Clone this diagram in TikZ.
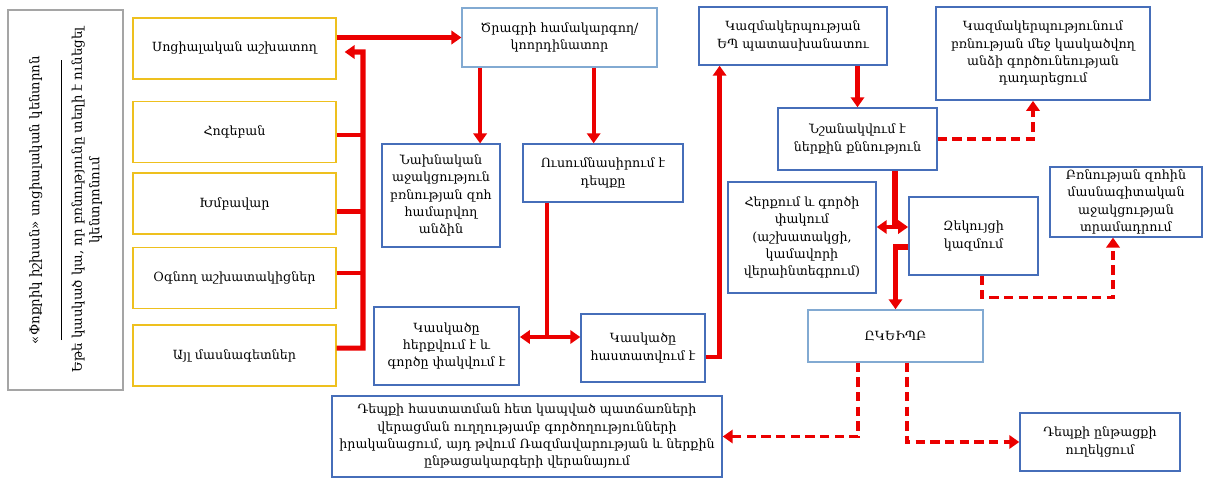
\documentclass[tikz,border=0pt]{standalone}
\usepackage{fontspec}
\setmainfont{DejaVu Serif}
\usetikzlibrary{arrows.meta,positioning,calc}
\definecolor{boxblue}{RGB}{70,110,185}
\definecolor{paleblue}{RGB}{130,170,210}
\definecolor{staffyellow}{RGB}{238,192,30}
\definecolor{framegray}{RGB}{165,165,165}
\definecolor{flowred}{RGB}{235,0,0}
\tikzstyle{every picture}=[x=0.75pt, y=-0.75pt,%
	>={Triangle[width=10pt,length=7.5pt]}, font=\fontsize{9.5}{13}\selectfont]
\tikzstyle{staff}=[draw=staffyellow, line width=1.2pt, minimum width=152pt,%
	minimum height=45.5pt, align=center]
\tikzstyle{stage}=[draw=boxblue, line width=1.1pt, align=center, inner sep=2pt]
\tikzstyle{flow}=[draw=flowred, line width=3.2pt]
\tikzstyle{maybe}=[draw=flowred, line width=2.6pt, dash pattern=on 7pt off 4pt]

\begin{document}
\begin{tikzpicture}
\useasboundingbox (0,0) rectangle (1208,479);
% left frame
\node[draw=framegray, line width=1.5pt, rotate=90, minimum width=285pt,%
	minimum height=86pt, align=center, font=\fontsize{10}{13}\selectfont] (centre)
	at (65.5,200)
	{«Փոքրիկ իշխան» սոցիալական կենտրոն\\[4pt]
	\rule{210pt}{0.6pt}\\[2pt]
	Եթե կասկած կա, որ բռնությունը տեղի է ունեցել\\ կենտրոնում};
% staff
\node[staff] (soc) at (234.5,48.5) {Սոցիալական աշխատող};
\node[staff] (psy) at (234.5,132) {Հոգեբան};
\node[staff] (group) at (234.5,203.5) {Խմբավար};
\node[staff] (helpers) at (234.5,278) {Օգնող աշխատակիցներ};
\node[staff] (others) at (234.5,355.5) {Այլ մասնագետներ};
% stages
\node[stage, draw=paleblue, minimum width=146pt, minimum height=44pt] (coord)
	at (559.5,37.5) {Ծրագրի համակարգող/\\կոորդինատոր};
\node[stage, minimum width=88.5pt, minimum height=77pt] (first) at (441,195.5)
	{Նախնական\\աջակցություն\\բռնության զոհ\\համարվող\\անձին};
\node[stage, minimum width=120pt, minimum height=43.5pt] (study) at (603,173)
	{Ուսումնասիրում է\\դեպքը};
\node[stage, minimum width=109pt, minimum height=58.5pt] (rejected) at (446.5,346)
	{Կասկածը\\հերքվում է և\\գործը փակվում է};
\node[stage, minimum width=93pt, minimum height=51pt] (confirmed) at (643,348)
	{Կասկածը\\հաստատվում է};
\node[stage, minimum width=141pt, minimum height=43.5pt] (ep) at (793,36)
	{Կազմակերպության\\ԵՊ պատասխանատու};
\node[stage, minimum width=160.5pt, minimum height=70pt] (suspend) at (1043,53.5)
	{Կազմակերպությունում\\բռնության մեջ կասկածվող\\անձի գործունեության\\դադարեցում};
\node[stage, minimum width=119pt, minimum height=46.5pt] (internal) at (857.5,139)
	{Նշանակվում է\\ներքին քննություն};
\node[stage, minimum width=114pt, minimum height=46.5pt] (victim) at (1126,202)
	{Բռնության զոհին\\մասնագիտական\\աջակցության\\տրամադրում};
\node[stage, minimum width=111pt, minimum height=83pt] (deny) at (802,237.5)
	{Հերքում և գործի\\փակում\\(աշխատակցի,\\կամավորի\\վերաինտեգրում)};
\node[stage, minimum width=97pt, minimum height=58.5pt] (report) at (973.5,236)
	{Զեկույցի\\կազմում};
\node[stage, draw=paleblue, minimum width=131pt, minimum height=39pt] (police)
	at (895.5,336) {ԸԿԵԻՊԲ};
\node[stage, minimum width=292.5pt, minimum height=61pt] (actions) at (527,436.5)
	{Դեպքի հաստատման հետ կապված պատճառների\\վերացման ուղղությամբ գործողությունների\\իրականացում, այդ թվում Ռազմավարության և ներքին\\ընթացակարգերի վերանայում};
\node[stage, minimum width=120pt, minimum height=43.5pt] (follow) at (1100,442)
	{Դեպքի ընթացքի\\ուղեկցում};
% staff to coordinator
\coordinate (bus) at (363,52);
\draw[flow] ([yshift=-2pt]psy.east) -- ([yshift=-2pt]psy.east -| bus);
\draw[flow] ([yshift=-6pt]group.east) -- ([yshift=-6pt]group.east -| bus);
\draw[flow] ([yshift=4pt]helpers.east) -- ([yshift=4pt]helpers.east -| bus);
\draw[flow,line width=3.8pt,->,shorten >=6pt] ([yshift=5.5pt]others.east) -| (bus)
	-- ([yshift=-2.6pt]soc.east);
\draw[flow,->] (soc.east |- coord.west) -- (coord.west);
\draw[flow,->] ([xshift=14pt]coord.south west) -- ([xshift=14pt]coord.south west |- first.north);
\draw[flow,->] ([xshift=-7pt]study.north |- coord.south) -- ([xshift=-7pt]study.north);
% study outcome
\coordinate (split) at (547,337);
\draw[flow] (split |- study.south) -- (split);
\draw[flow,<->] (rejected.east |- split) -- (confirmed.west |- split);
\draw[flow,->] ([yshift=-6.75pt]confirmed.east) -| ([xshift=16pt]ep.south west);
\draw[flow,->] (internal.north |- ep.south) -- (internal.north);
\draw[maybe,->] (internal.east) -| ([xshift=-7.5pt]suspend.south);
% internal inquiry
\coordinate (fork) at (895,227);
\draw[flow,line width=3.8pt] (fork |- internal.south) -- (fork);
\draw[flow,<->] (deny.east |- fork) -- (report.west |- fork);
\draw[flow,line width=3.8pt,->] ([yshift=-8.25pt]report.west) -| (police.north);
\draw[maybe,->] ([xshift=6.4pt]report.south) -- ++(0,22) -| ([xshift=-9.75pt]victim.south);
\draw[maybe,->] ([xshift=-28pt]police.south) |- (actions.east);
\draw[maybe,->] ([xshift=8.5pt]police.south) |- (follow.west);
\end{tikzpicture}
\end{document}
